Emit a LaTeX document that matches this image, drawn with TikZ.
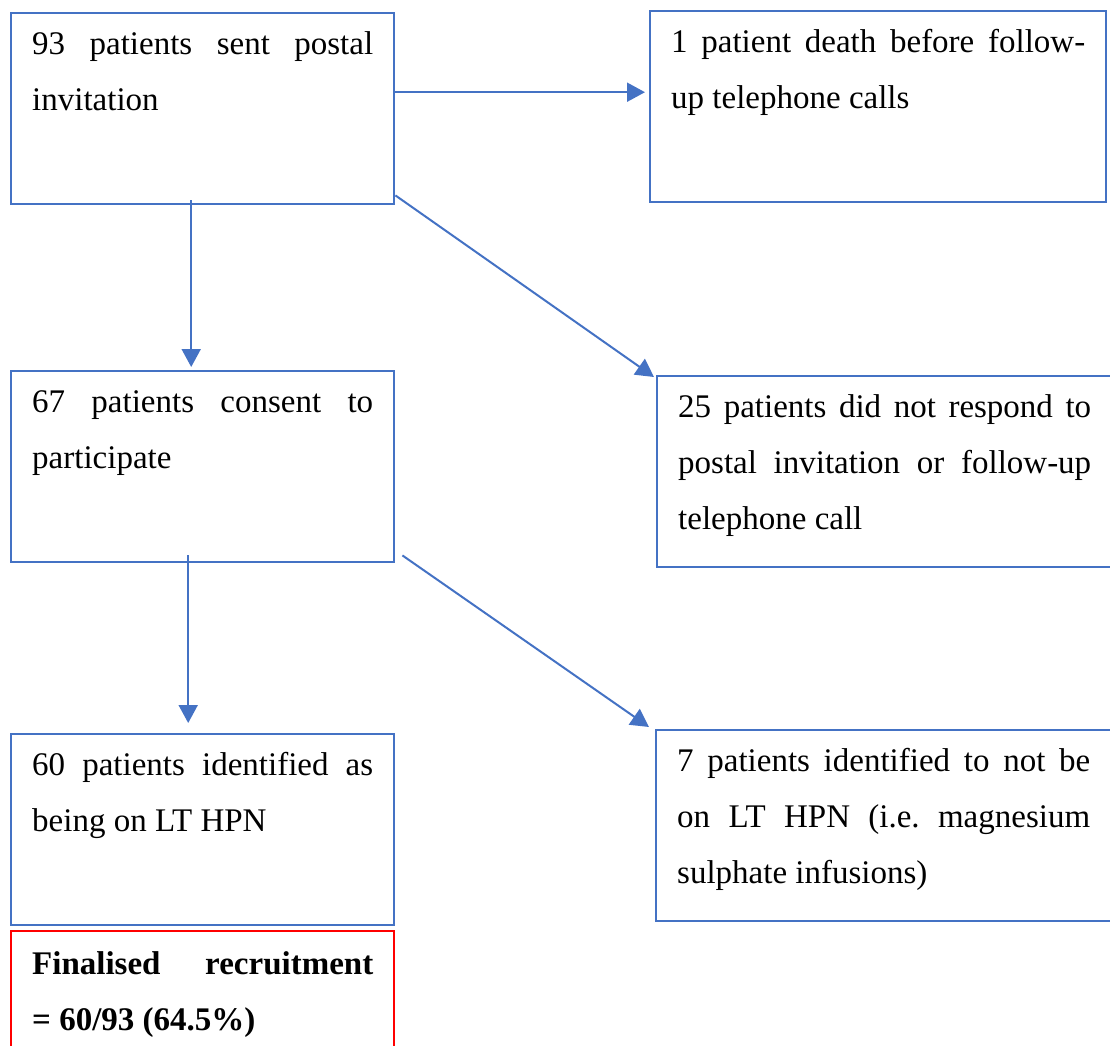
\documentclass[tikz,border=0pt]{standalone}
\usepackage{fontspec}
\setmainfont{Liberation Serif}
\usetikzlibrary{arrows.meta,positioning}

\definecolor{flowblue}{HTML}{4472C4}
\frenchspacing

\begin{document}
\begin{tikzpicture}[
        x=1pt, y=1pt,
        every path/.style={line width=2pt},
        stepbox/.style={draw=flowblue, line width=2.4pt, anchor=north west, inner xsep=21pt, inner ysep=0pt,
            align=justify, text height=41pt, text depth=150pt,
            font=\fontsize{33}{56}\selectfont},
        leftbox/.style={stepbox, text width=341pt},
        rightbox/.style={stepbox, text width=413pt},
        resultbox/.style={leftbox, draw=red, text height=43pt},
        flowarrow/.style={draw=flowblue, -{Triangle[length=18pt,width=19pt]}}
    ]
    \useasboundingbox (0,0) rectangle (1110,-1045);

    % Nodes
    \node (sent)[leftbox] at (10,-12) {93 patients sent postal\linebreak invitation};
    \node (death)[rightbox, text width=414pt] at (649,-10) {1 patient death before follow-\linebreak up telephone calls};
    \node (consent)[leftbox] at (10,-370) {67 patients consent to\linebreak participate};
    \node (noreply)[rightbox] at (656,-375) {25 patients did not respond to\linebreak postal invitation or follow-up\linebreak telephone call};
    \node (hpn)[leftbox] at (10,-733) {60 patients identified as\linebreak being on LT HPN};
    \node (nothpn)[rightbox] at (655,-729) {7 patients identified to not be\linebreak on LT HPN (i.e. magnesium\linebreak sulphate infusions)};
    \node (final)[resultbox] at (10,-930) {\textbf{Finalised recruitment\linebreak = 60/93 (64.5\%)}};

    % Edges
    \draw[flowarrow] ([yshift=16.5pt]sent.east) -- ([yshift=16.5pt,xshift=-4pt]sent.east -| death.west);
    \draw[flowarrow] ([xshift=-11.5pt,yshift=5pt]sent.south) -- ([xshift=-11.5pt,yshift=3pt]sent.south |- consent.north);
    \draw[flowarrow] ([yshift=10pt]sent.south east) -- ([shift={(-2pt,-2pt)}]noreply.north west);
    \draw[flowarrow] ([xshift=-14.5pt,yshift=8pt]consent.south) -- ([xshift=-14.5pt,yshift=10pt]consent.south |- hpn.north);
    \draw[flowarrow] ([shift={(7pt,8pt)}]consent.south east) -- ([shift={(-6pt,2pt)}]nothpn.north west);

\end{tikzpicture}
\end{document}
